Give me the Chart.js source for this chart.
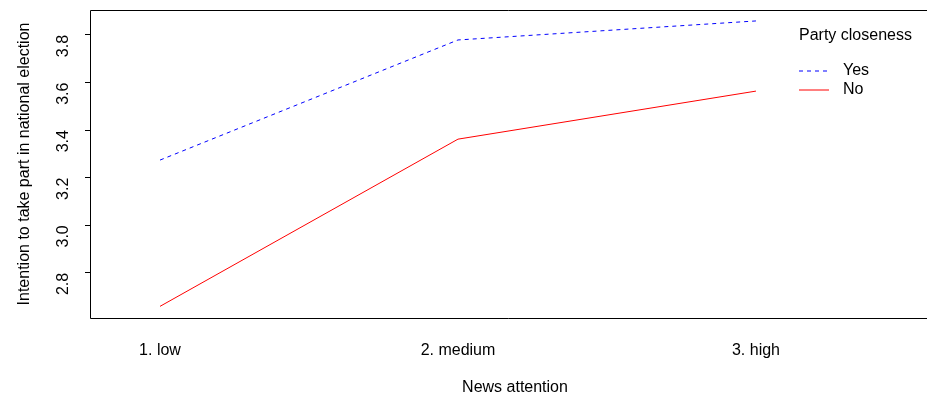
<!DOCTYPE html>
<html>
<head>
<meta charset="utf-8">
<script src="https://cdn.jsdelivr.net/npm/chart.js@4"></script>
<style>
  html, body { margin: 0; padding: 0; background: #fff; }
  #wrap { width: 927px; height: 395px; }
</style>
</head>
<body>
<div id="wrap"><canvas id="c" width="927" height="395"></canvas></div>
<script>
// News attention levels and mean intention to vote, by party closeness
const categories = ["1. low", "2. medium", "3. high"];
const yesValues = [3.274, 3.779, 3.859];
const noValues = [2.659, 3.362, 3.564];
const yTicks = [2.8, 3.0, 3.2, 3.4, 3.6, 3.8];
const xTitle = "News attention";
const legendTitle = "Party closeness";
const seriesNames = ["Yes", "No"];

const FONT = "'Liberation Sans', Arial, sans-serif";
const FS = 16;

const toPoints = vals => vals.map((v, i) => ({ x: i + 1, y: v }));

// Open frame (the plot region continues past the right edge),
// x-axis title centred on the full plot region, and an R-style legend
const framePlugin = {
  id: 'frame',
  afterDraw(chart) {
    const { ctx, chartArea: a } = chart;
    const L = Math.round(a.left) + 0.5, T = Math.round(a.top) + 0.5, B = Math.round(a.bottom) + 0.5;
    ctx.save();
    ctx.strokeStyle = '#000';
    ctx.lineWidth = 1;
    ctx.beginPath();
    ctx.moveTo(chart.width, T);
    ctx.lineTo(L, T);
    ctx.lineTo(L, B);
    ctx.lineTo(chart.width, B);
    ctx.stroke();

    ctx.font = FS + 'px ' + FONT;
    ctx.fillStyle = '#000';
    ctx.textBaseline = 'middle';
    ctx.textAlign = 'center';
    ctx.fillText(xTitle, 515, 388);

    ctx.textAlign = 'left';
    ctx.fillText(legendTitle, 799, 36);

    const entries = [
      { name: seriesNames[0], color: '#0000ff', dash: [4, 4], y: 71 },
      { name: seriesNames[1], color: '#ff0000', dash: [], y: 90 }
    ];
    entries.forEach(e => {
      ctx.strokeStyle = e.color;
      ctx.setLineDash(e.dash);
      ctx.beginPath();
      ctx.moveTo(799, e.y);
      ctx.lineTo(829, e.y);
      ctx.stroke();
      ctx.setLineDash([]);
      ctx.fillText(e.name, 843, e.y);
    });
    ctx.restore();
  }
};

new Chart(document.getElementById('c'), {
  type: 'line',
  data: {
    datasets: [
      {
        label: seriesNames[0],
        data: toPoints(yesValues),
        borderColor: '#0000ff',
        borderWidth: 1,
        borderDash: [4, 4],
        pointRadius: 0,
        tension: 0,
        fill: false
      },
      {
        label: seriesNames[1],
        data: toPoints(noValues),
        borderColor: '#ff0000',
        borderWidth: 1,
        pointRadius: 0,
        tension: 0,
        fill: false
      }
    ]
  },
  options: {
    responsive: false,
    animation: false,
    devicePixelRatio: 1,
    layout: { padding: { top: 10, right: 0, left: 0, bottom: 0 } },
    plugins: {
      legend: { display: false },
      tooltip: { enabled: false }
    },
    scales: {
      x: {
        type: 'linear',
        min: 0.765,
        max: 3.574,
        afterBuildTicks: s => { s.ticks = categories.map((c, i) => ({ value: i + 1 })); },
        afterFit: s => { s.height = 77; s.paddingLeft = 0; s.paddingRight = 0; },
        grid: { display: false, drawTicks: false },
        border: { display: false },
        ticks: {
          padding: 23,
          maxRotation: 0,
          autoSkip: false,
          color: '#000',
          font: { family: FONT, size: FS },
          callback: v => categories[Math.round(v) - 1]
        },
        title: { display: false }
      },
      y: {
        min: 2.61,
        max: 3.905,
        afterBuildTicks: s => { s.ticks = yTicks.map(v => ({ value: v })); },
        afterFit: s => { s.width = 90; s.paddingTop = 0; s.paddingBottom = 0; },
        grid: { display: true, drawOnChartArea: false, drawTicks: true, tickLength: 5, color: '#000' },
        border: { display: false },
        ticks: {
          padding: 21,
          minRotation: 90,
          maxRotation: 90,
          color: '#000',
          font: { family: FONT, size: FS },
          callback: v => v.toFixed(1)
        },
        title: {
          display: true,
          text: 'Intention to take part in national election',
          color: '#000',
          font: { family: FONT, size: FS },
          padding: { top: 15, bottom: 0 }
        }
      }
    }
  },
  plugins: [framePlugin]
});
</script>
</body>
</html>
